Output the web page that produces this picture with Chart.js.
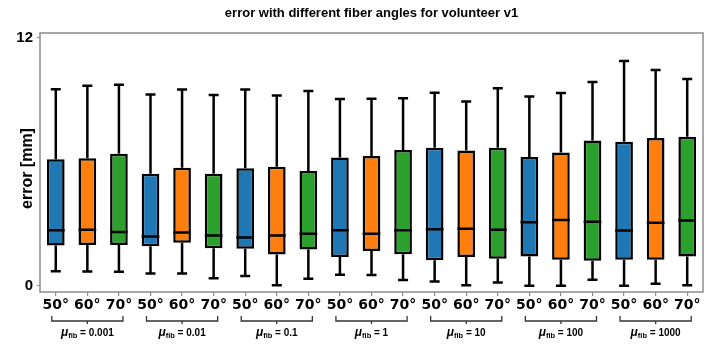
<!DOCTYPE html>
<html>
<head>
<meta charset="utf-8">
<script src="https://cdn.jsdelivr.net/npm/chart.js@4/dist/chart.umd.min.js"></script>
<style>
  html, body { margin: 0; padding: 0; background: #fff; }
  #wrap { width: 720px; height: 360px; }
</style>
</head>
<body>
<div id="wrap"><canvas id="myChart" width="720" height="360"></canvas></div>
<script>
// x categories: three fiber angles repeated for each mu_fib group
const angleLabels = ['50°', '60°', '70°', '50°', '60°', '70°', '50°', '60°', '70°',
                     '50°', '60°', '70°', '50°', '60°', '70°', '50°', '60°', '70°',
                     '50°', '60°', '70°'];
const muGroups = ['0.001', '0.01', '0.1', '1', '10', '100', '1000'];

// box plot stats (mm)
const whiskerLow = [0.71, 0.69, 0.68, 0.60, 0.60, 0.37, 0.47, 0.03, 0.34, 0.53, 0.52,
                    0.28, 0.21, 0.03, 0.16, 0.00, 0.00, 0.29, 0.00, 0.10, 0.03];
const q1 = [1.95, 1.98, 1.98, 1.92, 2.08, 1.82, 1.79, 1.51, 1.76, 1.39, 1.68,
            1.53, 1.24, 1.40, 1.31, 1.42, 1.26, 1.21, 1.26, 1.26, 1.42];
const median = [2.69, 2.72, 2.60, 2.39, 2.58, 2.43, 2.34, 2.43, 2.52, 2.69, 2.52,
                2.69, 2.74, 2.76, 2.71, 3.08, 3.19, 3.10, 2.68, 3.05, 3.16];
const q3 = [6.13, 6.18, 6.39, 5.42, 5.72, 5.43, 5.69, 5.77, 5.56, 6.21, 6.29,
            6.58, 6.68, 6.55, 6.68, 6.24, 6.45, 7.03, 6.97, 7.16, 7.22];
const whiskerHigh = [9.52, 9.69, 9.74, 9.26, 9.50, 9.24, 9.50, 9.21, 9.43, 9.05, 9.06,
                     9.08, 9.35, 8.92, 9.56, 9.16, 9.34, 9.87, 10.89, 10.45, 10.01];

const yTicks = [0, 12];

const angleColors = ['#1f77b4', '#ff7f0e', '#2ca02c'];

// floating bars = boxes from q1 to q3
const boxData = q1.map((lo, i) => [lo, q3[i]]);
const boxColors = angleLabels.map((l, i) => angleColors[i % 3]);

const sansBold = '"Liberation Sans", Arial, sans-serif';

// whiskers, medians, frame, y label and group brackets
const boxExtras = {
  id: 'boxExtras',
  beforeDatasetsDraw(chart) {
    const { ctx, chartArea: a } = chart;
    ctx.save();
    ctx.strokeStyle = '#8c8c8c';
    ctx.lineWidth = 1.5;
    ctx.strokeRect(a.left, a.top, a.right - a.left, a.bottom - a.top);
    ctx.restore();
  },
  afterDatasetsDraw(chart) {
    const { ctx, scales: { x, y } } = chart;
    const bars = chart.getDatasetMeta(0).data;
    ctx.save();
    ctx.strokeStyle = '#000';
    ctx.lineWidth = 2.5;
    bars.forEach((bar, i) => {
      const cx = x.getPixelForValue(i);
      const half = bar.width / 2;
      const capHalf = 5;
      const pLow = y.getPixelForValue(whiskerLow[i]);
      const pQ1 = y.getPixelForValue(q1[i]);
      const pQ3 = y.getPixelForValue(q3[i]);
      const pHigh = y.getPixelForValue(whiskerHigh[i]);
      const pMed = y.getPixelForValue(median[i]);
      ctx.beginPath();
      // lower whisker + cap
      ctx.moveTo(cx, pQ1); ctx.lineTo(cx, pLow);
      ctx.moveTo(cx - capHalf, pLow); ctx.lineTo(cx + capHalf, pLow);
      // upper whisker + cap
      ctx.moveTo(cx, pQ3); ctx.lineTo(cx, pHigh);
      ctx.moveTo(cx - capHalf, pHigh); ctx.lineTo(cx + capHalf, pHigh);
      // median
      ctx.moveTo(cx - half, pMed); ctx.lineTo(cx + half, pMed);
      ctx.stroke();
    });
    ctx.restore();
  },
  afterDraw(chart) {
    const { ctx, chartArea: a, scales: { x } } = chart;
    ctx.save();

    // y axis label
    ctx.save();
    ctx.translate(28, (a.top + a.bottom) / 2 + 6);
    ctx.rotate(-Math.PI / 2);
    ctx.font = 'bold 16px ' + sansBold;
    ctx.fillStyle = '#000';
    ctx.textAlign = 'center';
    ctx.textBaseline = 'middle';
    ctx.fillText('error [mm]', 0, 0);
    ctx.restore();

    ctx.strokeStyle = '#333';
    ctx.lineWidth = 1.3;
    ctx.fillStyle = '#000';
    muGroups.forEach((mu, g) => {
      const x1 = x.getPixelForValue(g * 3) - 4;
      const xm = x.getPixelForValue(g * 3 + 1);
      const x2 = x.getPixelForValue(g * 3 + 2) + 4;
      const yb = a.bottom + 29;
      ctx.beginPath();
      ctx.moveTo(x1, yb - 5); ctx.lineTo(x1, yb); ctx.lineTo(x2, yb); ctx.lineTo(x2, yb - 5);
      ctx.moveTo(xm, yb); ctx.lineTo(xm, yb + 3);
      ctx.stroke();

      // label "μ_fib = value"
      const fMu = 'italic bold 12px ' + sansBold;
      const fSub = 'bold 7.5px ' + sansBold;
      const fMain = 'bold 10px ' + sansBold;
      const rest = ' = ' + mu;
      ctx.font = fMu; const wMu = ctx.measureText('μ').width;
      ctx.font = fSub; const wSub = ctx.measureText('fib').width;
      ctx.font = fMain; const wRest = ctx.measureText(rest).width;
      let tx = xm - (wMu + wSub + wRest) / 2;
      const ty = a.bottom + 44;
      ctx.textBaseline = 'alphabetic';
      ctx.textAlign = 'left';
      ctx.font = fMu; ctx.fillText('μ', tx, ty); tx += wMu;
      ctx.font = fSub; ctx.fillText('fib', tx, ty + 2); tx += wSub;
      ctx.font = fMain; ctx.fillText(rest, tx, ty);
    });
    ctx.restore();
  }
};

const ctx = document.getElementById('myChart').getContext('2d');

const myChart = new Chart(ctx, {
  type: 'bar',
  data: {
    labels: angleLabels,
    datasets: [{
      data: boxData,
      backgroundColor: boxColors,
      borderColor: '#000',
      borderWidth: 2.5,
      borderSkipped: false,
      barPercentage: 0.56,
      categoryPercentage: 1.0,
    }],
  },
  options: {
    responsive: false,
    animation: false,
    layout: { padding: { left: 0, right: 17, top: 0, bottom: 0 } },
    scales: {
      x: {
        border: { display: false },
        grid: {
          display: true,
          drawOnChartArea: false,
          drawTicks: true,
          tickLength: 4,
          offset: false,
          color: '#8c8c8c',
          lineWidth: 1.2,
        },
        ticks: {
          padding: 1,
          color: '#000',
          maxRotation: 0,
          autoSkip: false,
          font: { family: '"DejaVu Sans", sans-serif', weight: 'bold', size: 14 },
        },
        afterFit: (scale) => { scale.height = 68; },
      },
      y: {
        min: -0.3,
        max: 12.24,
        border: { display: false },
        grid: {
          display: true,
          drawOnChartArea: false,
          drawTicks: true,
          tickLength: 3,
          color: '#8c8c8c',
        },
        ticks: {
          padding: 4,
          color: '#000',
          font: { family: sansBold, weight: 'bold', size: 15 },
        },
        afterBuildTicks: (scale) => { scale.ticks = yTicks.map(v => ({ value: v })); },
        afterFit: (scale) => { scale.width = 40; },
      },
    },
    plugins: {
      legend: { display: false },
      tooltip: { enabled: false },
      title: {
        display: true,
        fullSize: false,
        text: 'error with different fiber angles for volunteer v1',
        color: '#000',
        padding: { top: 6, bottom: 11.4 },
        font: { family: sansBold, weight: 'bold', size: 13 },
      },
    },
  },
  plugins: [boxExtras],
});
</script>
</body>
</html>
